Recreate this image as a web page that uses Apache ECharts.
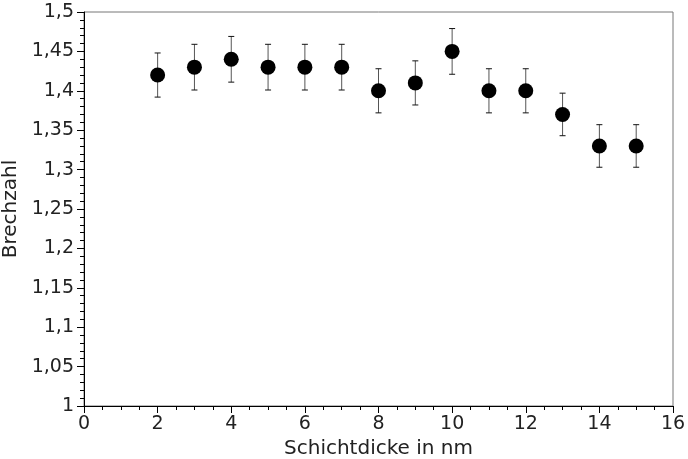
<!DOCTYPE html>
<html><head><meta charset="utf-8">
<script src="https://cdn.jsdelivr.net/npm/echarts@6/dist/echarts.min.js"></script>
<style>html,body{margin:0;padding:0;background:#fff}#c{width:688px;height:459px}</style>
</head><body><div id="c"></div>
<script>
const thickness = [2,3,4,5,6,7,8,9,10,11,12,13,14,15];
const refrIndex = [1.42,1.43,1.44,1.43,1.43,1.43,1.40,1.41,1.45,1.40,1.40,1.37,1.33,1.33];
const errors = [0.028,0.029,0.029,0.029,0.029,0.029,0.028,0.028,0.029,0.028,0.028,0.027,0.027,0.027];
const xTitle = 'Schichtdicke in nm';
const yTitle = 'Brechzahl';

const pts = thickness.map((x,i)=>[x, refrIndex[i]]);
const errData = thickness.map((x,i)=>[x, refrIndex[i]-errors[i], refrIndex[i]+errors[i]]);
const fmt = v => String(Math.round(v*100)/100).replace('.', ',');
const font = 'DejaVu Sans';

const chart = echarts.init(document.getElementById('c'));
chart.setOption({
  animation:false,
  grid:{left:84,right:15,top:12,bottom:53,containLabel:false,outerBoundsMode:'none',
    show:true,borderColor:'#777',borderWidth:1,backgroundColor:'transparent'},
  xAxis:{type:'value',min:0,max:16,interval:2,
    name:xTitle,nameLocation:'middle',nameGap:27,
    nameTextStyle:{fontFamily:font,fontSize:20,color:'#222'},
    axisLine:{lineStyle:{color:'#000',width:1}},
    axisTick:{length:7,lineStyle:{color:'#000'}},
    minorTick:{show:true,splitNumber:4,length:4,lineStyle:{color:'#000'}},
    axisLabel:{fontFamily:font,fontSize:19,color:'#222',margin:9},
    splitLine:{show:false}},
  yAxis:{type:'value',min:1,max:1.5,interval:0.05,
    name:yTitle,nameLocation:'middle',nameGap:52,
    nameTextStyle:{fontFamily:font,fontSize:20,color:'#222'},
    axisLine:{show:true,lineStyle:{color:'#000',width:1}},
    axisTick:{show:true,length:7,lineStyle:{color:'#000'}},
    minorTick:{show:true,splitNumber:5,length:4,lineStyle:{color:'#000'}},
    axisLabel:{fontFamily:font,fontSize:19,color:'#222',margin:10,formatter:fmt},
    splitLine:{show:false}},
  series:[
    {type:'custom',data:errData,z:1,
      renderItem:function(params,api){
        const x=api.value(0);
        const lo=api.coord([x,api.value(1)]);
        const hi=api.coord([x,api.value(2)]);
        const w=3;
        return {type:'group',children:[
          {type:'line',shape:{x1:lo[0],y1:lo[1],x2:hi[0],y2:hi[1]},style:{stroke:'#555',lineWidth:1}},
          {type:'line',shape:{x1:lo[0]-w,y1:lo[1],x2:lo[0]+w,y2:lo[1]},style:{stroke:'#111',lineWidth:1}},
          {type:'line',shape:{x1:hi[0]-w,y1:hi[1],x2:hi[0]+w,y2:hi[1]},style:{stroke:'#111',lineWidth:1}}
        ]};
      }},
    {type:'scatter',data:pts,symbol:'circle',symbolSize:15,z:2,itemStyle:{color:'#000',opacity:1}}
  ]
});
</script></body></html>
